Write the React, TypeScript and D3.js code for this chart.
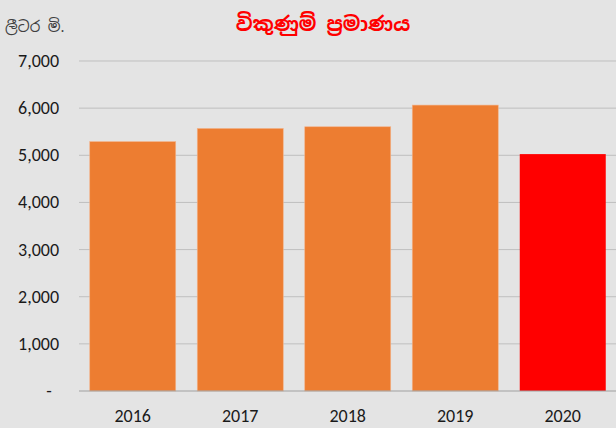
import React from "react";
import * as d3 from "d3";

const years = ["2016", "2017", "2018", "2019", "2020"];
const sales = [5290, 5570, 5605, 6065, 5025];
const barColors = ["#ED7D31", "#ED7D31", "#ED7D31", "#ED7D31", "#FF0000"];
const yTicks = [0, 1000, 2000, 3000, 4000, 5000, 6000, 7000];
const title = "විකුණුම් ප්‍රමාණය";
const unitLabel = "ලීටර මි.";

const W = 616;
const H = 428;
const left = 79;
const right = 616.5;
const top = 61;
const bottom = 391;

export default function App() {
  const x = d3.scaleBand<string>().domain(years).range([left, right]).paddingInner(0.2).paddingOuter(0.1);
  const y = d3.scaleLinear().domain([0, 7000]).range([bottom, top]);
  const fmt = d3.format(",");
  const font = "Carlito, Lato, 'Liberation Sans', sans-serif";
  return (
    <svg width={W} height={H} style={{ position: "absolute", left: 0, top: 0, background: "#E4E4E4" }}>
      <rect x={0} y={0} width={W} height={H} fill="#E4E4E4" />
      <text x={323} y={31} textAnchor="middle" fill="#FF0000" fontSize={20} fontWeight="bold" fontFamily="'Noto Sans Sinhala', 'Noto Sans', sans-serif">{title}</text>
      <text x={5} y={32} fill="#404040" fontSize={15} fontFamily="'Noto Sans Sinhala', 'Noto Sans', sans-serif">{unitLabel}</text>
      {yTicks.filter((t) => t > 0).map((t) => (
        <line key={"g" + t} x1={left} x2={W} y1={y(t)} y2={y(t)} stroke="#BFBFBF" strokeWidth={1} />
      ))}
      {yTicks.map((t) => (
        <text key={"t" + t} x={t === 0 ? 49 : 59} y={y(t) + 6} textAnchor={t === 0 ? "middle" : "end"} fill="#1a1a1a" fontSize={18} fontFamily={font}>
          {t === 0 ? "-" : fmt(t)}
        </text>
      ))}
      {years.map((yr, i) => (
        <rect key={yr} x={x(yr)} y={y(sales[i])} width={x.bandwidth()} height={y(0) - y(sales[i])} fill={barColors[i]} stroke={i < 4 ? "#F2B48C" : "none"} strokeWidth={0.6} />
      ))}
      <line x1={left} x2={W} y1={y(0)} y2={y(0)} stroke="#A0A0A0" strokeWidth={1.2} />
      {years.map((yr) => (
        <text key={"x" + yr} x={(x(yr) as number) + x.bandwidth() / 2} y={422} textAnchor="middle" fill="#1a1a1a" fontSize={18} fontFamily={font}>{yr}</text>
      ))}
    </svg>
  );
}
